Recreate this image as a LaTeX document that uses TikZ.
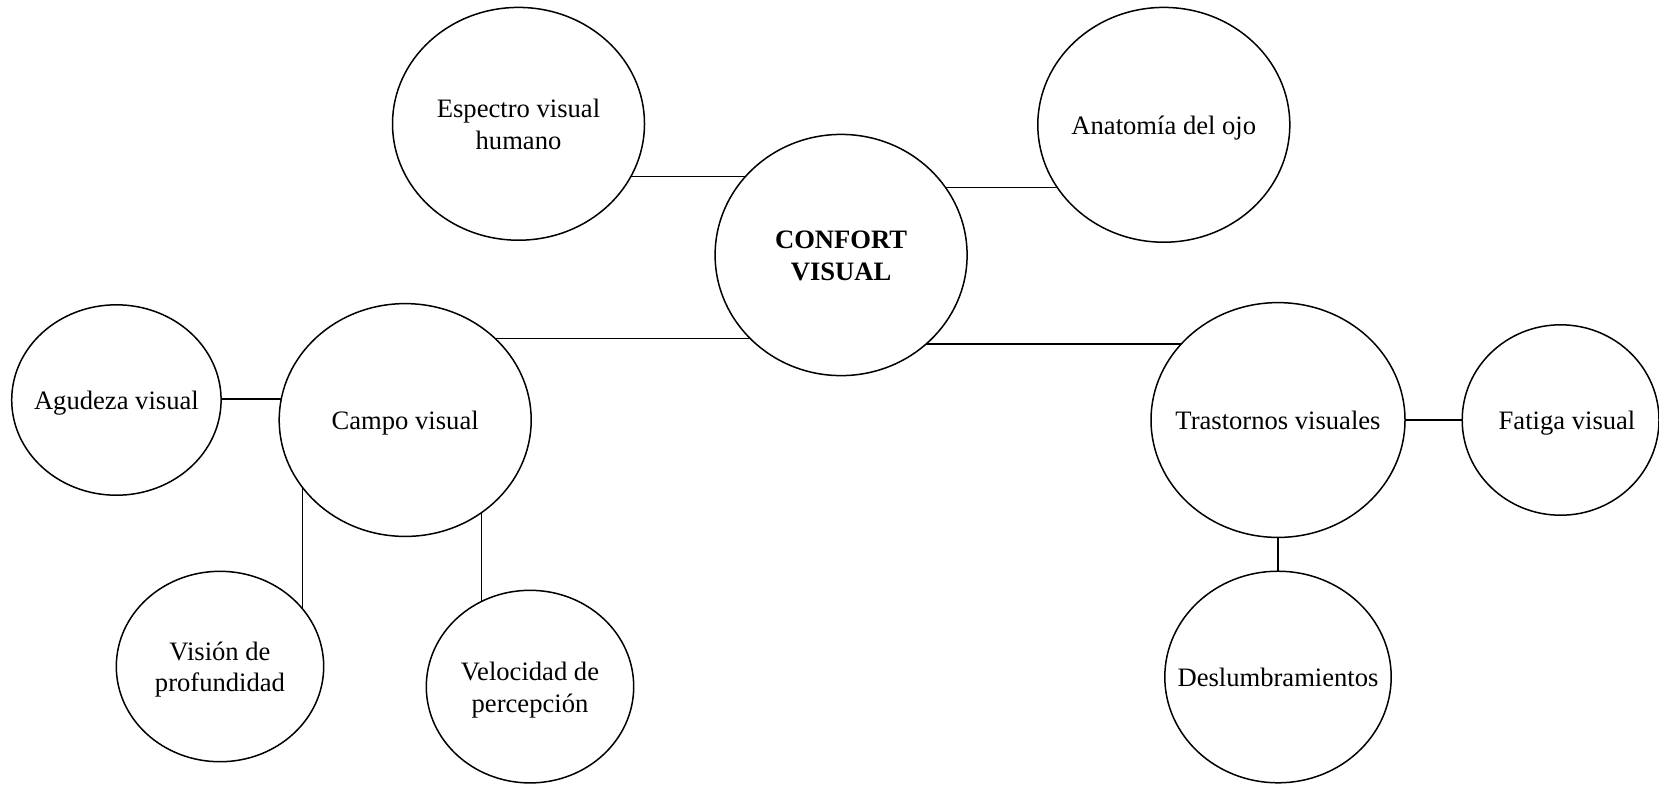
\documentclass[tikz,border=0pt]{standalone}
\usepackage{fontspec}
\setmainfont{Liberation Serif}
\usetikzlibrary{shapes.geometric,backgrounds}

% label set in a zero-width box, so each bubble keeps its given size;
% the optional argument nudges the label to the right
\newcommand{\bubbletext}[2][0pt]{\makebox[0pt][c]{\hspace*{#1}\hspace*{#1}\raisebox{-1.6pt}[\height][\depth]{\begin{tabular}{@{}c@{}}#2\end{tabular}}}}

\tikzset{
  bubble/.style={ellipse, draw, fill=white, line width=0.75pt, inner sep=0pt,
    font=\fontsize{13.3}{15.9}\selectfont},
  link/.style={line width=0.75pt}
}

\begin{document}
\begin{tikzpicture}[x=0.5pt,y=-0.5pt]
\useasboundingbox (0,0) rectangle (1659,784);

% concept bubbles (sizes in pt: full width and height)
\node[bubble, minimum width=126pt, minimum height=116.4pt] (espectro) at (518.5,123.8) {\bubbletext{Espectro visual\\humano}};
\node[bubble, minimum width=126pt, minimum height=117.4pt] (anatomia) at (1163.8,124.8) {\bubbletext{Anatomía del ojo}};
\node[bubble, minimum width=126pt, minimum height=120.6pt, font=\fontsize{13.3}{15.9}\selectfont\bfseries] (confort) at (841.1,255) {\bubbletext{CONFORT\\VISUAL}};
\node[bubble, minimum width=104.7pt, minimum height=95.2pt] (agudeza) at (116.4,400) {\bubbletext{Agudeza visual}};
\node[bubble, minimum width=126pt, minimum height=116.4pt] (campo) at (405.2,420) {\bubbletext{Campo visual}};
\node[bubble, minimum width=127pt, minimum height=117.4pt] (trastornos) at (1278,420) {\bubbletext{Trastornos visuales}};
\node[bubble, minimum width=98.4pt, minimum height=95.2pt] (fatiga) at (1560.6,420) {\bubbletext[3.2pt]{Fatiga visual}};
\node[bubble, minimum width=103.7pt, minimum height=95.2pt] (vision) at (220,666.5) {\bubbletext{Visión de\\profundidad}};
\node[bubble, minimum width=103.7pt, minimum height=96.3pt] (velocidad) at (530,686.6) {\bubbletext{Velocidad de\\percepción}};
\node[bubble, minimum width=113.2pt, minimum height=105.8pt] (deslumbr) at (1278,677) {\bubbletext{Deslumbramientos}};

% connectors, drawn behind the white bubbles
\begin{scope}[on background layer]
  \path (confort.center) ++(0,-78.3) coordinate (kEsp);
  \path (confort.center) ++(0,-67.7) coordinate (kAna);
  \path (confort.center) ++(0,83.6)  coordinate (kCam);
  \path (confort.center) ++(0,88.9)  coordinate (kTra);
  \path (agudeza.center) ++(0,-1.1)  coordinate (kAgu);
  \path (campo.center) ++(-102.6,0)  coordinate (kVis);
  \path (campo.center) ++(76.2,0)    coordinate (kVel);
  \draw[link] (kEsp) -- (kEsp -| espectro.center);
  \draw[link] (kAna) -- (kAna -| anatomia.center);
  \draw[link] (kCam) -- (kCam -| campo.center);
  \draw[link] (kTra) -- (kTra -| trastornos.center);
  \draw[link] (kAgu) -- (kAgu -| campo.center);
  \draw[link] (kVis) -- (kVis |- vision.center);
  \draw[link] (kVel) -- (kVel |- velocidad.center);
  \draw[link] (trastornos.center) -- (fatiga.center);
  \draw[link] (trastornos.center) -- (deslumbr.center);
\end{scope}
\end{tikzpicture}
\end{document}
